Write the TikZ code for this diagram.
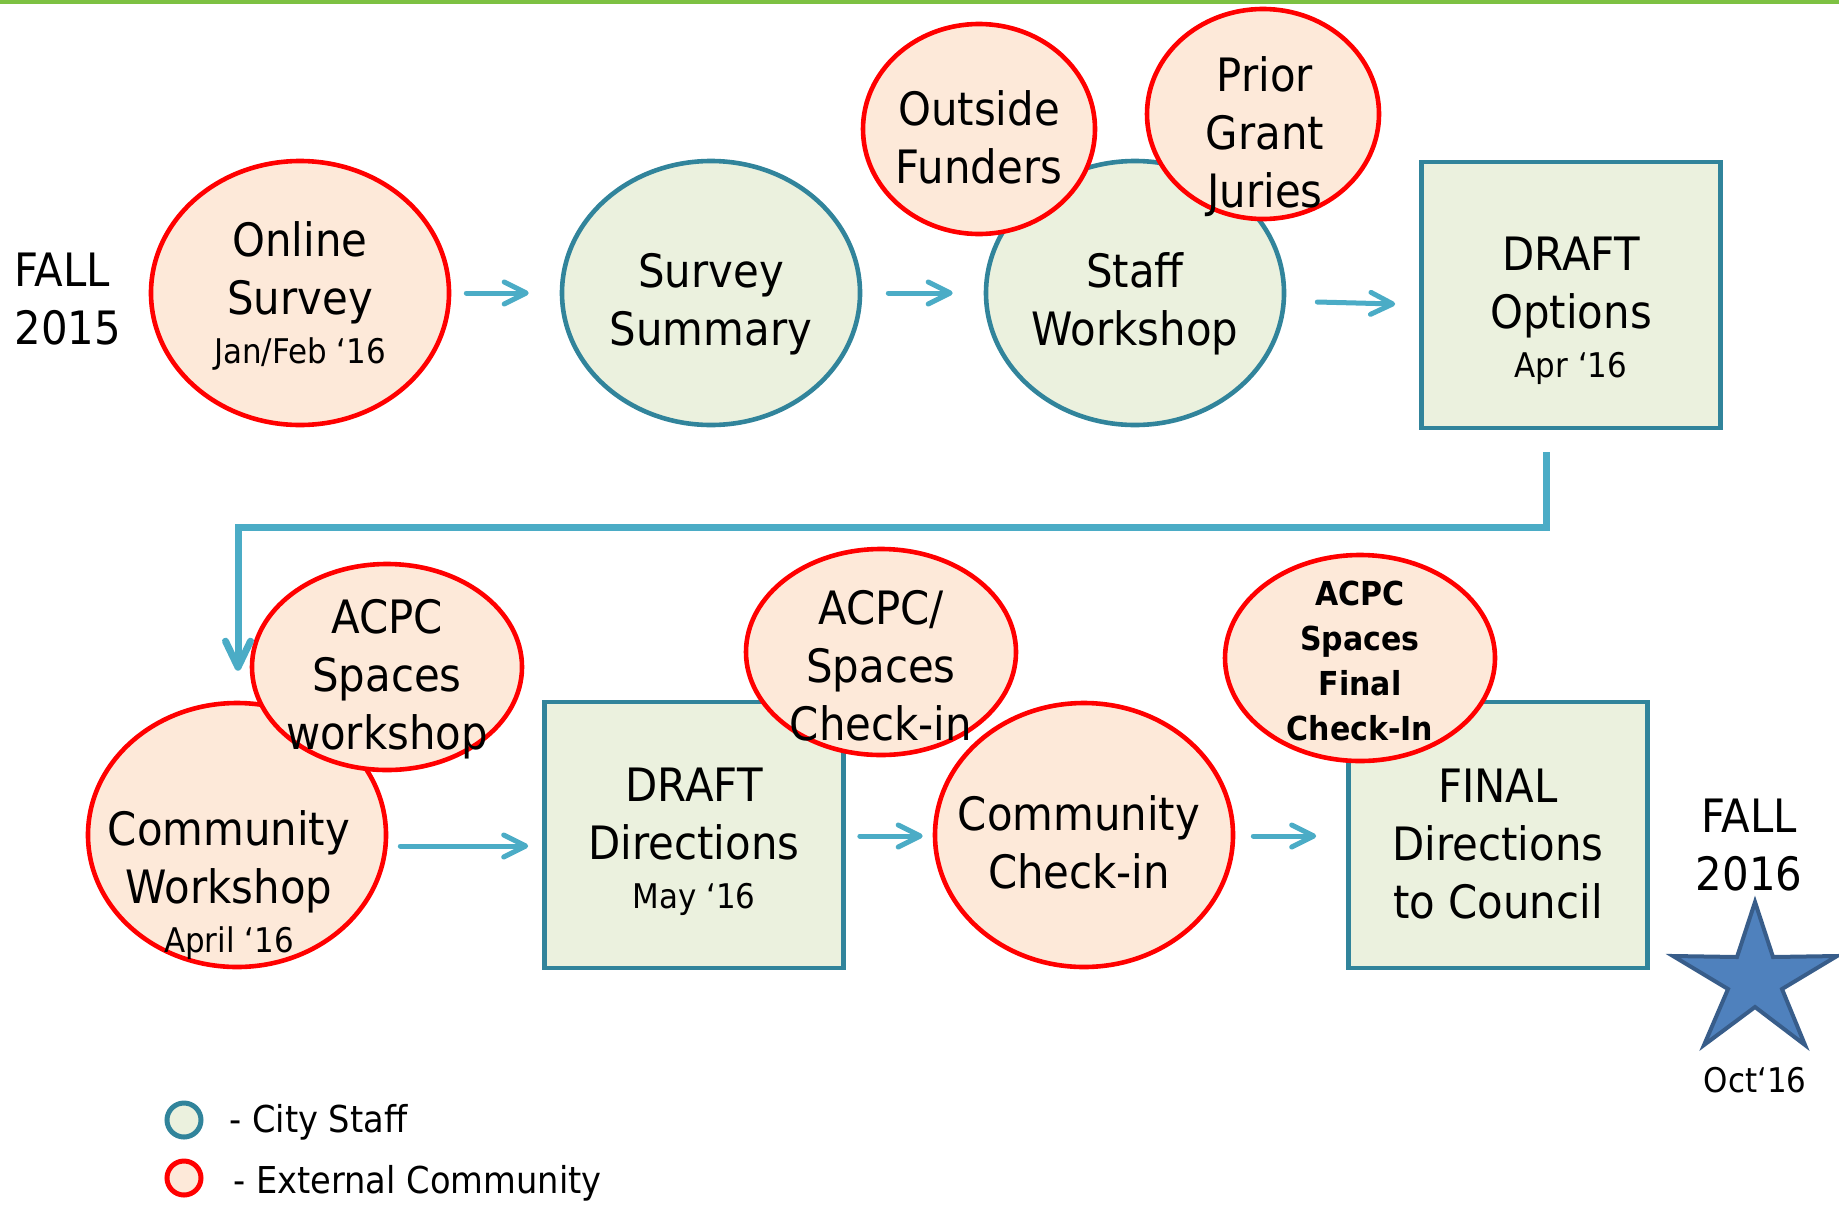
\documentclass[tikz,border=0pt]{standalone}
\usepackage{fontspec}
\setmainfont{DejaVu Sans}[FakeStretch=0.91]
\usetikzlibrary{shapes.geometric,arrows.meta,calc}
\definecolor{staffline}{HTML}{31849B}
\definecolor{stafffill}{HTML}{EBF1DE}
\definecolor{extline}{HTML}{FF0000}
\definecolor{extfill}{HTML}{FDE9D9}
\definecolor{flowblue}{HTML}{4BACC6}
\definecolor{topgreen}{HTML}{7DC142}
\definecolor{starfill}{HTML}{4F81BD}
\definecolor{starline}{HTML}{385D8A}
\newcommand{\datetxt}[1]{{\fontsize{17}{20}\selectfont #1}}
\begin{document}
\begin{tikzpicture}[x=0.5pt, y=-0.5pt,
  staff/.style = {draw=staffline, fill=stafffill, ellipse, line width=2.3pt, inner sep=0pt},
  ext/.style = {draw=extline, fill=extfill, ellipse, line width=2.3pt, inner sep=0pt},
  bigsize/.style = {minimum width=149pt, minimum height=132pt},
  midsize/.style = {minimum width=135pt, minimum height=103pt},
  smallsize/.style = {minimum width=116pt, minimum height=105pt},
  box/.style = {draw=staffline, fill=stafffill, rectangle, line width=2.3pt, inner sep=0pt, minimum width=149.5pt, minimum height=133pt},
  txt/.style = {align=center, font=\fontsize{23}{29}\selectfont, inner sep=0pt},
  flow/.style = {draw=flowblue, line width=2.5pt, line cap=round, -{Straight Barb[length=11pt, width=11pt, round]}}]
\useasboundingbox (0,0) rectangle (1839,1205);
\fill[topgreen] (0,0) rectangle (1839,4);

% top row
\node[ext, bigsize] (1) at (300,293) {};
\node[staff, bigsize] (2) at (711,293) {};
\node[staff, bigsize] (3) at (1135,293) {};
\node[ext, smallsize] (4) at (979,129) {};
\node[ext, smallsize] (5) at (1263,114) {};
\node[box] (6) at (1571,295) {};

\node[txt, align=left, anchor=west] (fall15) at (14,299) {FALL\\2015};
\node[txt] (1t) at (300,296) {Online\\Survey\\[-4.5pt]\datetxt{Jan/Feb ‘16}};
\node[txt] (2t) at (711,304) {Survey\\Summary};
\node[txt] (3t) at (1135,304) {Staff\\Workshop};
\node[txt] (4t) at (979,137) {Outside\\Funders};
\node[txt] (5t) at (1265,137) {Prior\\Grant\\Juries};
\node[txt] (6t) at (1571,311) {DRAFT\\Options\\[-4.5pt]\datetxt{Apr ‘16}};

\draw[flow, shorten <=7.5pt, shorten >=15.5pt] (1) -- (2);
\draw[flow, shorten <=13pt, shorten >=15.5pt] (2) -- (3);
\draw[flow] ($(3.east)+(31,9)$) -- ($(6.west)+(-24,9)$);

% bottom row
\node[ext, bigsize] (7) at (237,835) {};
\node[ext, midsize] (8) at (387,667) {};
\node[box] (9) at (694,835) {};
\node[ext, bigsize] (11) at (1084,835) {};
\node[ext, midsize] (10) at (881,652) {};
\node[box] (13) at (1498,835) {};
\node[ext, midsize] (12) at (1360,658) {};

\node[txt] (7t) at (229,885) {Community\\Workshop\\[-4.5pt]\datetxt{April ‘16}};
\node[txt] (8t) at (387,679) {ACPC\\Spaces\\workshop};
\node[txt] (9t) at (694,842) {DRAFT\\Directions\\[-4.5pt]\datetxt{May ‘16}};
\node[txt] (10t) at (881,666) {ACPC/\\Spaces\\Check-in};
\node[txt] (11t) at (1079,842) {Community\\Check-in};
\node[txt, font=\fontsize{16.5}{22.5}\selectfont\bfseries] (12t) at (1360,661) {ACPC\\Spaces\\Final\\Check-In};
\node[txt] (13t) at (1498,844) {FINAL\\Directions\\to Council};
\node[txt] (fall16) at (1749,845) {FALL\\2016};

\draw[flow] ($(7.east)+(12,11)$) -- ($(9.west)+(-14,11)$);
\draw[flow] ($(9.east)+(14,1)$) -- ($(11.west)+(-10,1)$);
\draw[flow] ($(11.east)+(18,1)$) -- ($(13.west)+(-30,1)$);

% link from the top row down to the bottom row
\draw[flow, line width=3.5pt, line cap=butt, -{Straight Barb[length=13pt, width=12.5pt, round]}]
  ($(6.south)+(-25,22)$) -- ++(0,75) -| ($(7.north)+(1,-30)$);

% star
\draw[draw=starline, fill=starfill, line width=2pt, line join=miter]
  (1755,902) -- (1773,957) -- (1837,956) -- (1782,989) -- (1805,1045) -- (1755,1007)
  -- (1704,1045) -- (1728,989) -- (1673,956) -- (1737,957) -- cycle;
\node[txt, font=\fontsize{17}{20}\selectfont] (oct16) at (1755,1080) {Oct‘16};

% key
\node[staff, circle, minimum size=17pt, line width=2.5pt] (key1) at (184,1120) {};
\node[txt, anchor=west, font=\fontsize{18.5}{23}\selectfont] (key1t) at (229,1122) {- City Staff};
\node[ext, circle, minimum size=17pt, line width=2.5pt] (key2) at (184,1178) {};
\node[txt, anchor=west, font=\fontsize{18.5}{23}\selectfont] (key2t) at (233,1183) {- External Community};
\end{tikzpicture}
\end{document}
